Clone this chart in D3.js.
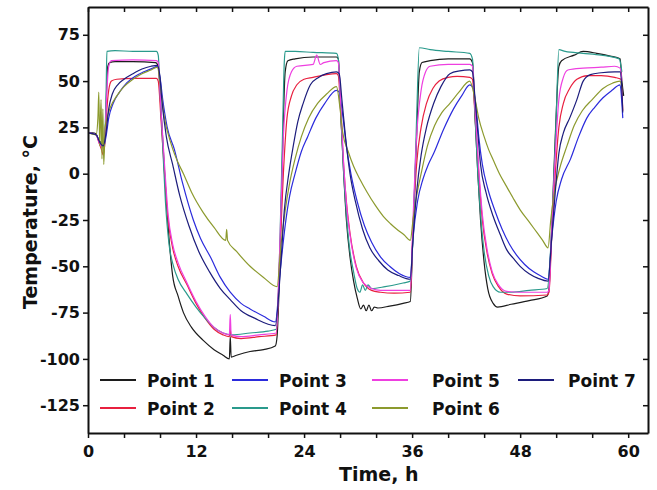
<!DOCTYPE html>
<html>
<head>
<meta charset="utf-8">
<script src="https://cdn.jsdelivr.net/npm/d3@7"></script>
<style>
  body { margin: 0; background: #fff; }
  text { font-family: "DejaVu Sans", sans-serif; font-weight: bold; fill: #111; }
</style>
</head>
<body>
<div id="chart"></div>
<script>
// data: [time h, temperature C]
var point1 = [[0,22],[0.5,22],[0.9,21.5],[1.1,19],[1.4,17],[1.7,16],[1.9,20],[2.0,35],[2.1,50],[2.2,58],[2.4,60],[3,60.5],[5,60.5],[7.5,60],[7.8,58],
  [8.1,35],[8.4,10],[8.7,-15],[9.0,-35],[9.4,-55],[10,-66],[10.6,-75],[11.5,-83],[12.8,-90],[14,-95],[15,-98],[15.7,-100],[15.8,-88],[15.9,-99],[16.5,-98],[18,-96],[19.5,-95],[20.8,-93],
  [21.0,-88],[21.3,-50],[21.6,10],[21.9,55],[22.2,61],[23,62],[25,63],[27.6,63],
  [27.8,62],[28.1,30],[28.4,0],[28.7,-25],[29.1,-45],[29.5,-58],[29.9,-67],[30.3,-73],[30.6,-71],[30.9,-74],[31.2,-71],[31.5,-74],[31.8,-72],[32.2,-72.5],[33.5,-71.5],[35,-70],[35.8,-69],
  [36.1,-30],[36.5,20],[36.8,55],[37.1,60],[38,61],[40,62],[42.4,62],
  [42.7,60],[43.0,30],[43.3,0],[43.6,-25],[44.0,-48],[44.4,-62],[45.0,-70],[45.5,-72],[47,-70.5],[49,-68.5],[51,-66],
  [51.2,-62],[51.5,-30],[51.9,20],[52.3,58],[52.6,61],[54,64],[55,66],[56.5,65],[58,63.5],[59.1,62],[59.3,50],[59.5,42]];

var point2 = [[0,22],[0.9,21],[1.2,17],[1.5,13],[1.7,10],[1.9,18],[2.1,35],[2.3,45],[2.6,50],[3.2,51],[5,51.5],[7.6,51.5],
  [7.8,50],[8.1,30],[8.5,0],[8.9,-25],[9.4,-40],[10,-50],[11,-60],[12,-70],[13,-78],[14,-84],[15,-87],[15.7,-88],[15.8,-84],[15.9,-88],[17,-89],[19,-88],[20.9,-87],
  [21.3,-45],[21.7,0],[22.1,30],[22.6,42],[23.2,48],[24,51],[25,52],[26.5,53.5],[27.6,54],
  [27.8,53],[28.1,30],[28.4,4],[28.7,-15],[29.1,-32],[29.8,-50],[30.6,-59],[31.5,-63],[32.5,-64],[34,-64.5],[35.8,-64],
  [36.1,-30],[36.5,5],[37,25],[37.6,38],[38.3,46],[39,50],[40,52],[41,52.5],[42.4,52],
  [42.7,51],[43.0,30],[43.4,0],[43.8,-25],[44.3,-42],[44.9,-54],[45.6,-61],[46.5,-65],[48,-66],[51,-65.5],
  [51.2,-64],[51.5,-35],[51.9,0],[52.3,25],[52.8,38],[53.5,46],[54.3,51],[55.5,53],[57,53],[58.5,52],[59.2,51],[59.4,34]];

var point3 = [[0,22],[0.9,21],[1.3,17],[1.7,14],[2.0,20],[2.3,30],[2.8,38],[3.5,44],[4.3,49],[5.2,52.5],[6.2,55],[7.2,57],[7.7,58],
  [8.0,52],[8.3,40],[8.8,25],[9.6,13],[10.5,-5],[11.7,-25],[12.5,-35],[13.6,-45],[14.7,-56],[15.8,-64],[17,-70],[18,-73],[19.5,-77],[20.8,-80],
  [21.4,-50],[21.9,-28],[22.4,-12],[23,0],[23.7,12],[24.4,20],[25.3,30],[26.3,38],[27.6,45],
  [27.9,44],[28.2,35],[28.7,15],[29.2,0],[29.9,-15],[30.7,-28],[31.5,-37],[32.5,-45],[33.5,-50],[34.6,-54],[35.8,-56],
  [36.1,-35],[36.6,-15],[37.2,-3],[37.8,5],[38.4,11],[39.5,24],[40.6,35],[41.5,42],[42.4,48],
  [42.8,46],[43.1,36],[43.4,20],[43.8,5],[44.4,-8],[45.2,-20],[46,-30],[46.8,-38],[47.6,-44],[48.5,-49],[49.5,-53],[50.4,-55.5],[51.1,-57],
  [51.5,-35],[52,-15],[52.6,-3],[53.6,8],[54.5,20],[55.4,30],[56.3,36],[57.2,41],[58.2,45],[59.1,48],[59.3,38],[59.4,30]];

var point4 = [[0,22],[0.9,21],[1.2,18],[1.5,16],[1.8,18],[2.0,40],[2.1,66],[3,66.5],[5,66],[7.6,66],
  [7.8,64],[8.0,45],[8.3,15],[8.6,-15],[9.0,-38],[9.5,-50],[10,-57],[11,-65],[12,-72],[13,-78],[14,-83],[15,-86],[16,-87],[18,-86],[20,-85],[20.9,-84],
  [21.3,-40],[21.6,20],[21.8,60],[21.9,66],[23,66],[25,65.5],[27.6,65],
  [27.8,62],[28.1,30],[28.4,0],[28.7,-22],[29.1,-42],[29.5,-53],[29.9,-62],[30.2,-64],[30.5,-60],[30.8,-63],[31.1,-60],[31.5,-62],[33,-61],[35,-59],[35.8,-58],
  [36.2,-20],[36.5,30],[36.8,68],[38,67],[40,66],[42.4,65],
  [42.7,62],[43.0,30],[43.3,0],[43.6,-22],[44.0,-42],[44.5,-55],[45.0,-61],[45.8,-64],[47,-64],[49,-63],[51,-62],
  [51.6,-20],[52.0,30],[52.3,67],[53,66],[55,65],[57,64],[59,62],[59.3,55]];

var point5 = [[0,22],[0.9,21],[1.3,16],[1.6,14],[1.9,22],[2.1,45],[2.3,58],[2.6,61],[5,61.5],[7.6,61],
  [7.8,60],[8.1,35],[8.5,5],[8.9,-22],[9.4,-38],[10,-48],[11,-59],[12,-69],[13,-77],[14,-83],[15,-86],[15.7,-87],[15.8,-76],[15.9,-87],[17,-88],[19,-87],[20.9,-86],
  [21.3,-40],[21.7,20],[22.1,45],[22.6,55],[23.2,58],[25,59],[25.4,64],[25.8,59],[26.2,60],[27.6,61],
  [27.8,60],[28.1,35],[28.4,5],[28.7,-16],[29.1,-33],[29.8,-51],[30.6,-59],[31.5,-62],[32.5,-63],[34,-63],[35.8,-63],
  [36.1,-25],[36.5,20],[37,45],[37.5,55],[38,58],[40,59],[42.4,59],
  [42.7,58],[43.0,35],[43.4,3],[43.8,-22],[44.3,-40],[44.9,-53],[45.6,-60],[46.5,-63.5],[48,-64],[51,-64],
  [51.2,-63],[51.5,-30],[51.9,10],[52.3,40],[52.8,52],[53.3,56],[55,57],[57,57.5],[58.5,58],[59.1,57],[59.3,50]];

var point6 = [[0,22],[0.9,21],[1.1,30],[1.2,44],[1.3,15],[1.45,40],[1.55,8],[1.65,35],[1.75,5],[1.9,25],[2.1,30],[2.5,36],[3.2,42],[4,47],[5,51],[6,54],[7,56],[7.7,57.5],
  [8.1,45],[8.4,33],[9.3,15],[10,6],[10.6,0],[11.5,-10],[12.8,-21],[14,-29],[15.3,-36],[15.4,-30],[15.5,-36],[16.5,-42],[18,-50],[19.5,-56],[21,-61],
  [21.4,-40],[21.9,-20],[22.4,-5],[23,8],[23.7,20],[24.5,30],[25.5,38],[26.5,43],[27.6,47],
  [28.0,35],[28.3,22],[28.9,12],[29.5,4],[30.2,-3],[31,-10],[31.9,-17],[32.8,-23],[33.6,-27],[34.3,-30],[35.1,-33],[35.8,-36],
  [36.1,-25],[36.5,-12],[37,0],[37.7,15],[38.5,26],[39.3,33],[40.2,38],[41.2,44],[42.4,50],
  [43.0,40],[43.4,30],[44,20],[44.5,13],[45,7.5],[45.7,0],[46.5,-7],[47.2,-13],[48,-19.5],[49,-26],[49.9,-32],[50.5,-36],[51.1,-40],
  [51.4,-25],[51.8,-10],[52.4,3],[53.2,15],[54,26],[54.9,34],[56,40],[57.2,46],[58.3,49],[59.1,50],[59.3,46]];

var point7 = [[0,22],[0.9,21],[1.3,17],[1.7,15],[2.0,22],[2.3,35],[2.7,43],[3.3,48],[4,51],[5,54],[6,56.5],[7,58],[7.7,58.5],
  [8.0,52],[8.2,40],[8.7,20],[9.4,5],[10.2,-12],[11.2,-28],[12.3,-42],[13.5,-53],[14.7,-62],[15.8,-68],[17,-74],[18.5,-78],[20.8,-82],
  [21.4,-50],[21.8,-20],[22.3,0],[22.8,15],[23.3,28],[23.9,38],[24.7,48],[25.6,52],[26.5,54],[27.6,55],
  [27.9,54],[28.2,40],[28.6,20],[29.1,0],[29.7,-15],[30.5,-30],[31.3,-40],[32.3,-47],[33.3,-52],[34.5,-55],[35.8,-57],
  [36.1,-35],[36.5,-10],[37,10],[37.6,25],[38.4,38],[39.2,47],[40.2,54],[41.3,55.5],[42.4,56],
  [42.7,55],[43.0,40],[43.3,22],[43.6,5],[44.2,-10],[45,-23],[45.8,-33],[46.5,-41],[47.3,-46],[48,-50],[49,-54],[50,-56.5],[51.1,-58],
  [51.5,-35],[51.9,-10],[52.3,11],[52.8,22],[53.5,30],[54.3,40],[55,50],[55.8,53.5],[57,54.5],[58.5,55],[59.1,55],[59.3,45],[59.4,33]];

var seriesNames = ["Point 1", "Point 2", "Point 3", "Point 4", "Point 5", "Point 6", "Point 7"];
var seriesData = [point1, point2, point3, point4, point5, point6, point7];
var seriesColors = ["#1c1c1c", "#e8203f", "#2b2bdc", "#2a9a8c", "#ee3fe0", "#8c9a2e", "#1c1c7c"];

var xTicks = [0, 4, 8, 12, 16, 20, 24, 28, 32, 36, 40, 44, 48, 52, 56, 60];
var yTicks = [-125, -100, -75, -50, -25, 0, 25, 50, 75];

var svgWidth = 657;
var svgHeight = 490;
var margin = { top: 7, right: 9, bottom: 57, left: 88 };
var width = svgWidth - margin.left - margin.right;
var height = svgHeight - margin.top - margin.bottom;

var svg = d3.select("#chart").append("svg")
  .attr("width", svgWidth)
  .attr("height", svgHeight);

var chartGroup = svg.append("g")
  .attr("transform", `translate(${margin.left}, ${margin.top})`);

var x = d3.scaleLinear().domain([0, 62.2]).range([0, width]);
var y = d3.scaleLinear().domain([-140, 90]).range([height, 0]);

chartGroup.append("clipPath").attr("id", "plotclip")
  .append("rect").attr("width", width).attr("height", height);

// lines
var line = d3.line()
  .x(d => x(d[0]))
  .y(d => y(d[1]))
  .curve(d3.curveMonotoneX);

chartGroup.append("g").attr("clip-path", "url(#plotclip)")
  .selectAll("path")
  .data(seriesData)
  .enter()
  .append("path")
  .attr("d", line)
  .attr("fill", "none")
  .attr("stroke", (d, i) => seriesColors[i])
  .attr("stroke-width", 1.2)
  .attr("stroke-linejoin", "round");

// axes (plain hyphen for negatives, like the original)
var bottomAxis = d3.axisBottom(x).tickValues(xTicks)
  .tickFormat(d => d % 12 === 0 ? String(d) : "").tickSize(5).tickSizeOuter(0).tickPadding(8);
var topAxis = d3.axisTop(x).tickValues(xTicks).tickFormat("").tickSize(-5).tickSizeOuter(0);
var leftAxis = d3.axisLeft(y).tickValues(yTicks).tickFormat(d => String(d))
  .tickSize(5).tickSizeOuter(0).tickPadding(3);
var rightAxis = d3.axisRight(y).tickValues(yTicks).tickFormat("").tickSize(-5).tickSizeOuter(0);

var gB = chartGroup.append("g").attr("transform", `translate(0, ${height})`).call(bottomAxis);
var gT = chartGroup.append("g").call(topAxis);
var gL = chartGroup.append("g").call(leftAxis);
var gR = chartGroup.append("g").attr("transform", `translate(${width}, 0)`).call(rightAxis);

[gB, gT, gL, gR].forEach(function (g) {
  g.selectAll(".domain").attr("stroke", "#111").attr("stroke-width", 2);
  g.selectAll(".tick line").attr("stroke", "#111").attr("stroke-width", 1.5);
  g.selectAll("text").style("font-family", "DejaVu Sans").style("font-weight", "bold")
    .style("font-size", "16px").attr("fill", "#111");
});

// axis titles
svg.append("text")
  .attr("x", margin.left + x(32.3))
  .attr("y", 481)
  .attr("text-anchor", "middle")
  .style("font-size", "19px")
  .text("Time, h");

svg.append("text")
  .attr("transform", "translate(37, 222) rotate(-90)")
  .attr("text-anchor", "middle")
  .style("font-size", "19px")
  .text("Temperature, °C");

// legend
var legendX = [100, 232, 372, 518];
var legendY = [380, 408];
var legendTextGap = [47, 47, 60, 50];

var legend = svg.selectAll("g.legend")
  .data(seriesNames)
  .enter()
  .append("g")
  .attr("class", "legend")
  .attr("transform", (d, i) => `translate(${legendX[Math.floor(i / 2)]}, ${legendY[i % 2]})`);

legend.append("line")
  .attr("x1", 0).attr("x2", 36)
  .attr("stroke", (d, i) => seriesColors[i])
  .attr("stroke-width", 2);

legend.append("text")
  .attr("x", (d, i) => legendTextGap[Math.floor(i / 2)])
  .attr("y", 7)
  .style("font-size", "17px")
  .text(d => d);
</script>
</body>
</html>
